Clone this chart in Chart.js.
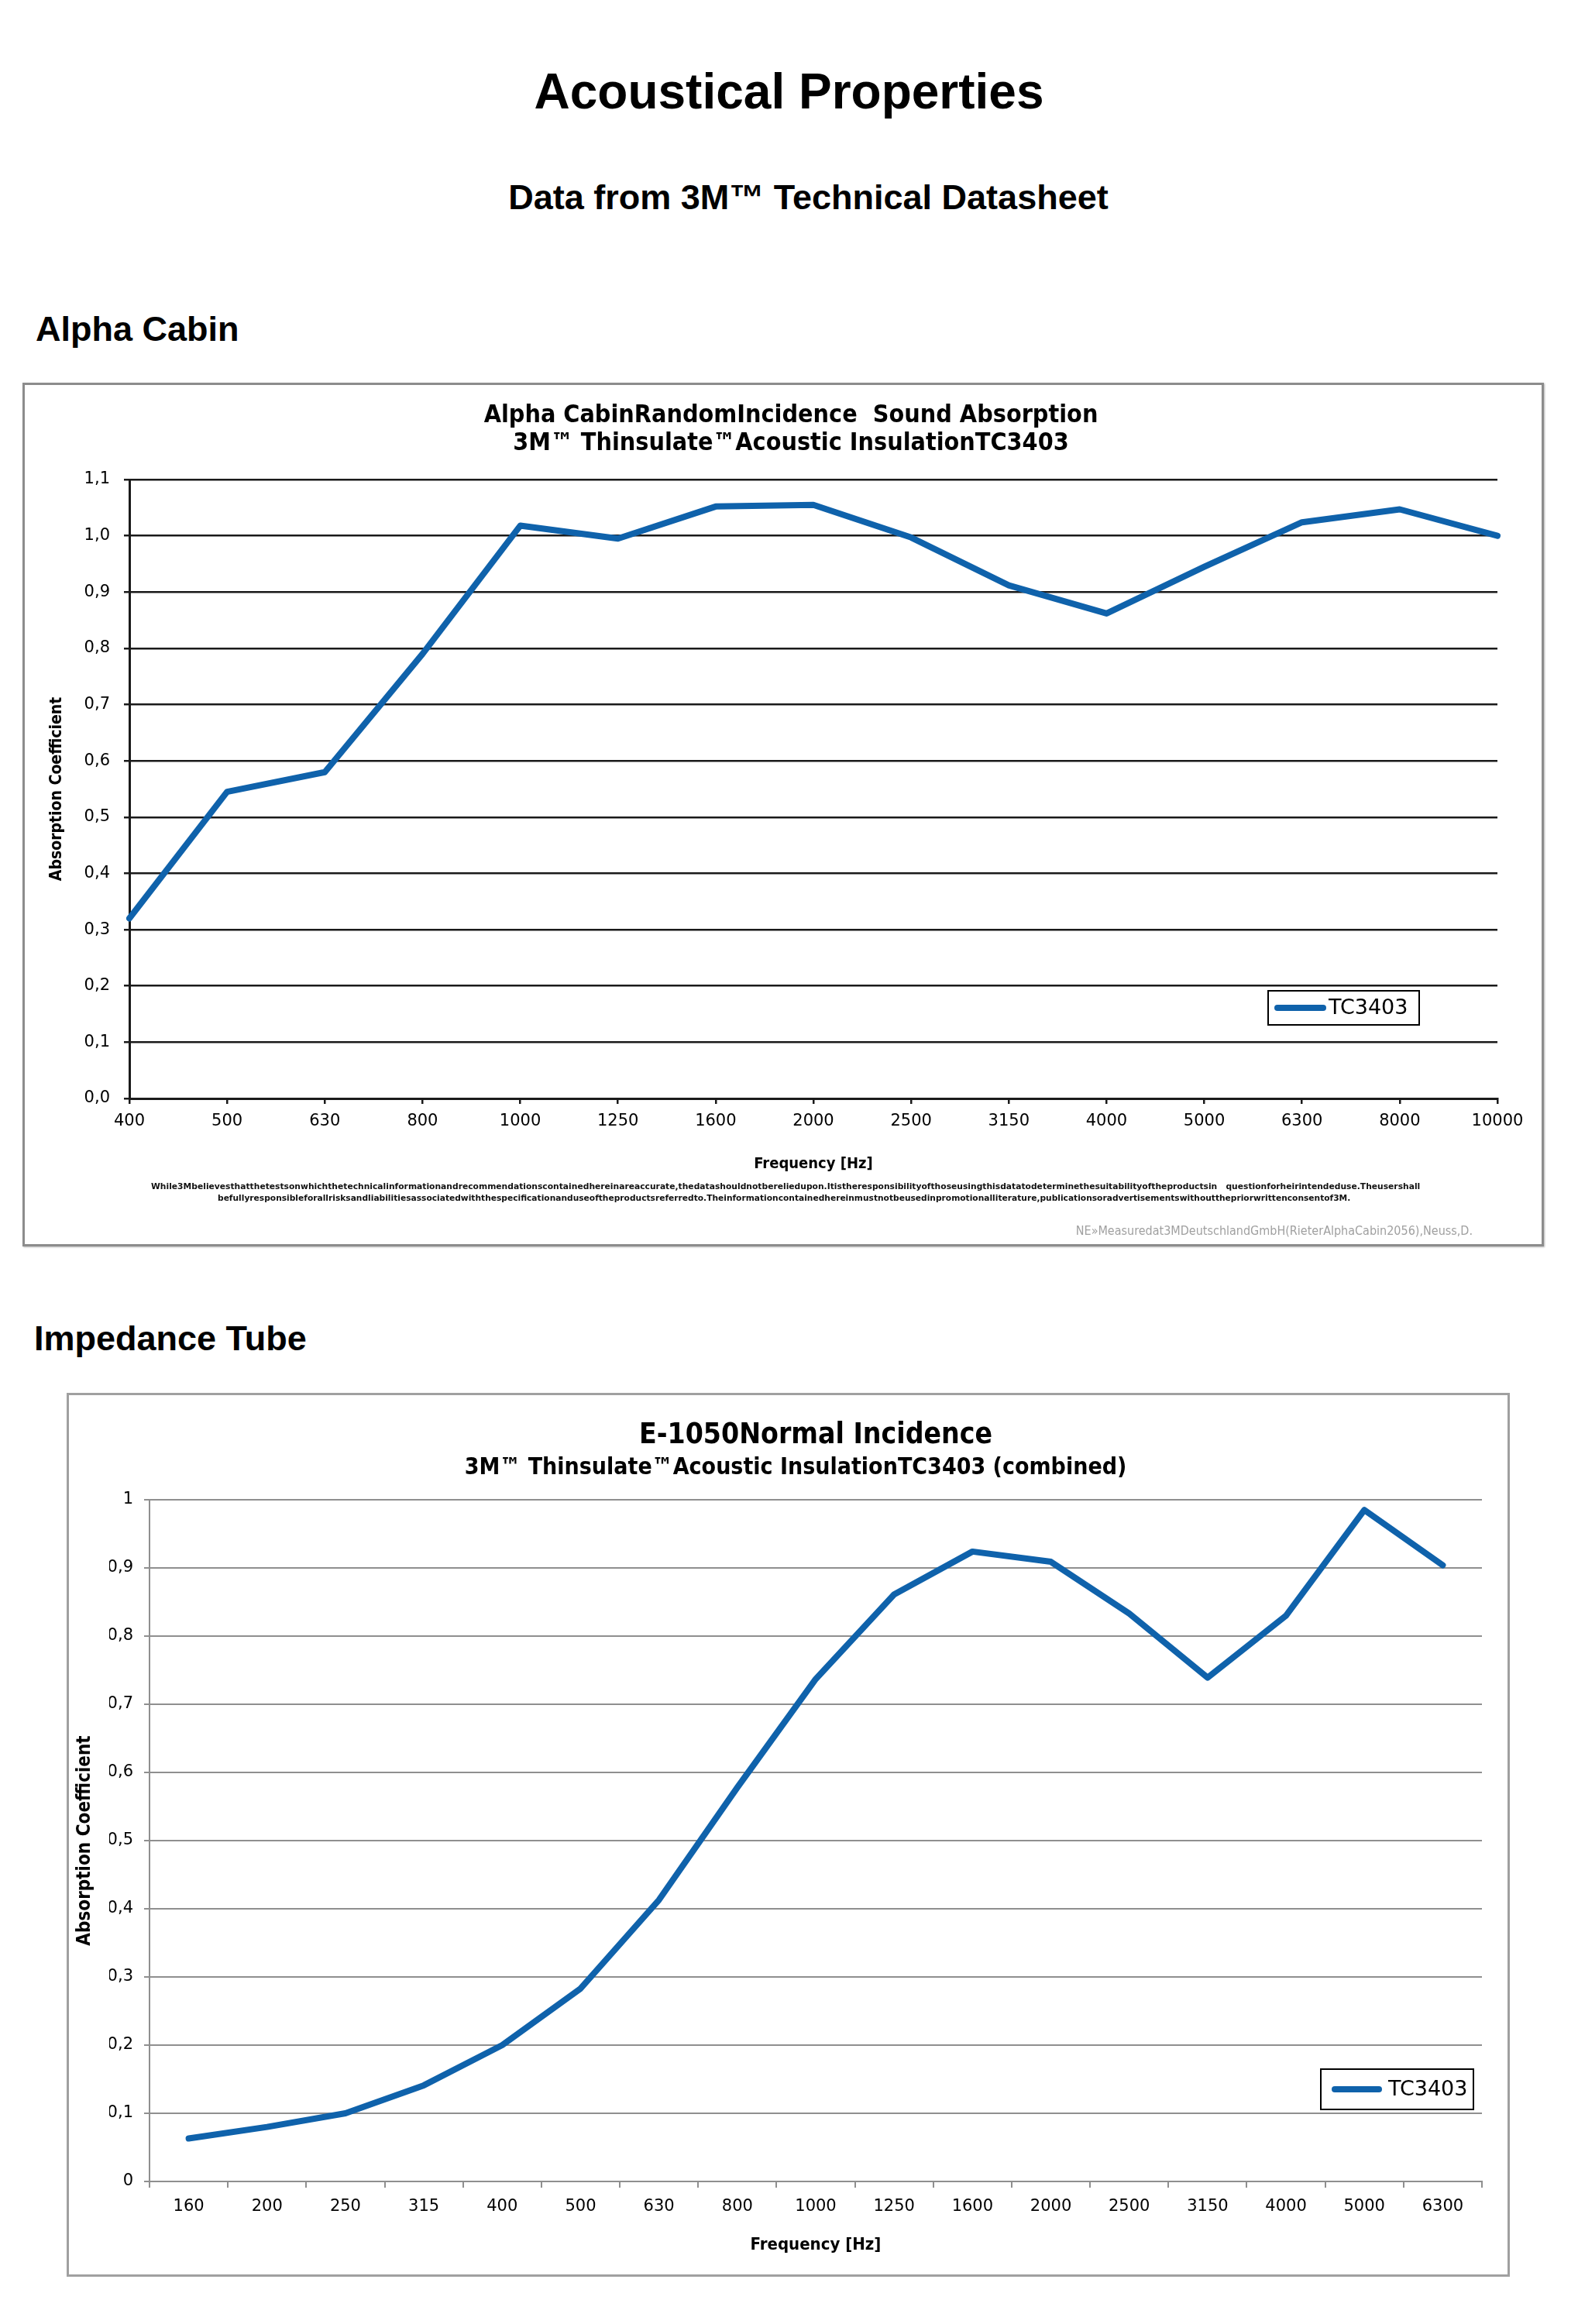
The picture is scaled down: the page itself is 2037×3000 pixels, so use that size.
<!DOCTYPE html>
<html lang="en">
<head>
<meta charset="UTF-8">
<title>Acoustical Properties</title>
<script src="https://cdn.jsdelivr.net/npm/chart.js"></script>
<style>
  body { margin: 0; background: #fff; }
  #page { position: relative; width: 2037px; height: 3000px; background: #fff; font-family: "Liberation Sans", Arial, sans-serif; }
  .head { position: absolute; font-weight: bold; line-height: 1; white-space: nowrap; color: #000; }
  .box { position: absolute; box-sizing: border-box; background: #fff; }
  canvas { position: absolute; }
  .note { position: absolute; white-space: nowrap; font-family: "DejaVu Sans Condensed", "DejaVu Sans", sans-serif; font-size: 11px; line-height: 13px; font-weight: bold; color: #111; transform-origin: left center; }
  .credit { position: absolute; white-space: nowrap; font-family: "DejaVu Sans Condensed", "DejaVu Sans", sans-serif; font-size: 16px; line-height: 18px; color: #a0a0a0; }
</style>
</head>
<body>
<div id="page">
  <div class="head" style="left:0; width:2037px; text-align:center; top:86px; font-size:64px;">Acoustical Properties</div>
  <div class="head" style="left:25px; width:2037px; text-align:center; top:232px; font-size:45px;">Data from 3M™ Technical Datasheet</div>
  <div class="head" style="left:46px; top:402px; font-size:45px;">Alpha Cabin</div>
  <div class="head" style="left:44px; top:1705px; font-size:45px;">Impedance Tube</div>

  <!-- cadre du premier graphique -->
  <div class="box" style="left:29px; top:494px; width:1964px; height:1115px; border:3px solid #8c8c8c; box-shadow:1px 1px 2px #b5b5b5;"></div>
  <canvas id="cabinChart" width="1958" height="1109" style="left:32px; top:497px;"></canvas>
  <div class="note" id="note1" style="left:195px; top:1525px;">While3Mbelievesthatthetestsonwhichthetechnicalinformationandrecommendationscontainedhereinareaccurate,thedatashouldnotbereliedupon.Itistheresponsibilityofthoseusingthisdatatodeterminethesuitabilityoftheproductsin&nbsp;&nbsp;&nbsp;questionforheirintendeduse.Theusershall</div>
  <div class="note" id="note2" style="left:281px; top:1540px;">befullyresponsibleforallrisksandliabilitiesassociatedwiththespecificationanduseoftheproductsreferredto.Theinformationcontainedhereinmustnotbeusedinpromotionalliterature,publicationsoradvertisementswithoutthepriorwrittenconsentof3M.</div>
  <div class="credit" style="right:136px; top:1580px;">NE»Measuredat3MDeutschlandGmbH(RieterAlphaCabin2056),Neuss,D.</div>

  <!-- cadre du second graphique -->
  <div class="box" style="left:86px; top:1798px; width:1863px; height:1141px; border:3px solid #a0a0a0;"></div>
  <canvas id="tubeChart" width="1857" height="1135" style="left:89px; top:1801px;"></canvas>
</div>

<script>
// Alpha Cabin - random incidence
var cabinFreq = ['400', '500', '630', '800', '1000', '1250', '1600', '2000', '2500', '3150', '4000', '5000', '6300', '8000', '10000'];
var cabinAlpha = [0.32, 0.545, 0.58, 0.79, 1.018, 0.995, 1.052, 1.055, 0.997, 0.912, 0.862, 0.945, 1.024, 1.047, 1.0];
var cabinTicks = ['0,0', '0,1', '0,2', '0,3', '0,4', '0,5', '0,6', '0,7', '0,8', '0,9', '1,0', '1,1'];

// Impedance tube - normal incidence
var tubeFreq = ['160', '200', '250', '315', '400', '500', '630', '800', '1000', '1250', '1600', '2000', '2500', '3150', '4000', '5000', '6300'];
var tubeAlpha = [0.063, 0.08, 0.1, 0.141, 0.2, 0.283, 0.413, 0.578, 0.737, 0.861, 0.924, 0.909, 0.833, 0.739, 0.83, 0.985, 0.904];
var tubeTicks = ['0', '0,1', '0,2', '0,3', '0,4', '0,5', '0,6', '0,7', '0,8', '0,9', '1'];

var seriesName = 'TC3403';
var lineBlue = '#0f62ab';
var condensed = '"DejaVu Sans Condensed", "DejaVu Sans", sans-serif';

Chart.defaults.font.family = '"DejaVu Sans", sans-serif';
Chart.defaults.color = '#000';

// legende encadree dans la zone du graphique
const boxLegend = {
  id: 'boxLegend',
  afterDatasetsDraw(chart, args, o) {
    const ds = chart.data.datasets[0];
    const a = chart.chartArea;
    const ctx = chart.ctx;
    const x = a.right - o.right - o.width;
    const y = a.bottom - o.bottom - o.height;
    const cy = y + o.height / 2;
    ctx.save();
    ctx.fillStyle = '#fff';
    ctx.fillRect(x, y, o.width, o.height);
    ctx.lineWidth = 2;
    ctx.strokeStyle = '#000';
    ctx.strokeRect(x, y, o.width, o.height);
    ctx.beginPath();
    ctx.lineCap = 'round';
    ctx.lineWidth = ds.borderWidth;
    ctx.strokeStyle = ds.borderColor;
    ctx.moveTo(x + o.lineFrom, cy);
    ctx.lineTo(x + o.lineTo, cy);
    ctx.stroke();
    ctx.font = '27px "DejaVu Sans", sans-serif';
    ctx.fillStyle = '#000';
    ctx.textBaseline = 'middle';
    ctx.fillText(ds.label, x + o.textX, cy + 1);
    ctx.restore();
  }
};

new Chart(document.getElementById('cabinChart'), {
  type: 'line',
  data: {
    labels: cabinFreq,
    datasets: [{
      label: seriesName,
      data: cabinAlpha,
      borderColor: lineBlue,
      borderWidth: 8,
      borderCapStyle: 'round',
      borderJoinStyle: 'round',
      pointRadius: 0,
      tension: 0
    }]
  },
  plugins: [boxLegend],
  options: {
    responsive: false,
    animation: false,
    layout: { padding: { top: 0, left: 77, right: 57, bottom: 78 } },
    plugins: {
      legend: { display: false },
      tooltip: { enabled: false },
      title: {
        display: true,
        text: ['Alpha CabinRandomIncidence  Sound Absorption', '3M\u2122 Thinsulate\u2122Acoustic InsulationTC3403'],
        font: { family: condensed, size: 32, weight: 'bold', lineHeight: 1.125 },
        color: '#000',
        padding: { top: 22, bottom: 28 }
      },
      boxLegend: { right: 101, bottom: 95, width: 195, height: 44, lineFrom: 12, lineTo: 71, textX: 78 }
    },
    scales: {
      x: {
        offset: false,
        grid: { drawOnChartArea: false, drawTicks: true, tickLength: 7, color: '#1a1a1a', lineWidth: 2.5 },
        border: { color: '#1a1a1a', width: 3 },
        ticks: { font: { size: 21 }, padding: 10, maxRotation: 0, autoSkip: false },
        title: { display: true, text: 'Frequency [Hz]', font: { family: condensed, size: 20, weight: 'bold' }, padding: { top: 0, bottom: 13 } },
        afterFit(s) { s.height = 110; }
      },
      y: {
        min: 0,
        max: 1.1,
        ticks: { stepSize: 0.1, font: { size: 21 }, padding: 18, callback: (v, i) => cabinTicks[i] },
        grid: { color: '#1a1a1a', lineWidth: 2.5, tickLength: 7 },
        border: { color: '#1a1a1a', width: 3 },
        title: { display: true, text: 'Absorption Coefficient', font: { family: condensed, size: 21, weight: 'bold' }, padding: { top: -47.6, bottom: 0 } },
        afterFit(s) { s.width = 58; }
      }
    }
  }
});

new Chart(document.getElementById('tubeChart'), {
  type: 'line',
  data: {
    labels: tubeFreq,
    datasets: [{
      label: seriesName,
      data: tubeAlpha,
      borderColor: lineBlue,
      borderWidth: 8,
      borderCapStyle: 'round',
      borderJoinStyle: 'round',
      pointRadius: 0,
      tension: 0
    }]
  },
  plugins: [boxLegend],
  options: {
    responsive: false,
    animation: false,
    layout: { padding: { top: 0, left: 52, right: 33, bottom: 10 } },
    plugins: {
      legend: { display: false },
      tooltip: { enabled: false },
      title: {
        display: true,
        fullSize: false,
        text: 'E-1050Normal Incidence',
        font: { family: condensed, size: 37, weight: 'bold', lineHeight: 1.2 },
        color: '#000',
        padding: { top: 29.8, bottom: 0 }
      },
      subtitle: {
        display: true,
        text: '3M\u2122 Thinsulate\u2122Acoustic InsulationTC3403 (combined)',
        font: { family: condensed, size: 30, weight: 'bold', lineHeight: 1.2 },
        color: '#000',
        padding: { top: 2.3, bottom: 22.5 }
      },
      boxLegend: { right: 11, bottom: 93, width: 197, height: 52, lineFrom: 18, lineTo: 75, textX: 87 }
    },
    scales: {
      x: {
        offset: true,
        grid: { offset: true, drawOnChartArea: false, drawTicks: true, tickLength: 8, color: '#8f8f8f', lineWidth: 2 },
        border: { color: '#8f8f8f', width: 2 },
        ticks: { font: { size: 21 }, padding: 12, maxRotation: 0, autoSkip: false },
        title: { display: true, text: 'Frequency [Hz]', font: { family: condensed, size: 22, weight: 'bold' }, padding: { top: 0, bottom: 15 } },
        afterFit(s) { s.height = 110; }
      },
      y: {
        min: 0,
        max: 1,
        ticks: { stepSize: 0.1, font: { size: 21 }, padding: 14, callback: (v, i) => tubeTicks[i] },
        grid: { color: '#8f8f8f', lineWidth: 2, tickLength: 7 },
        border: { color: '#8f8f8f', width: 2 },
        title: { display: true, text: 'Absorption Coefficient', font: { family: condensed, size: 24, weight: 'bold' }, padding: { top: -45.9, bottom: 0 } },
        afterFit(s) { s.width = 52; }
      }
    }
  }
});

// ajuste la largeur des deux lignes de la note
function fitLine(id, w) {
  var el = document.getElementById(id);
  el.style.transform = 'scaleX(' + (w / el.offsetWidth) + ')';
}
fitLine('note1', 1638);
fitLine('note2', 1462);
</script>
</body>
</html>
